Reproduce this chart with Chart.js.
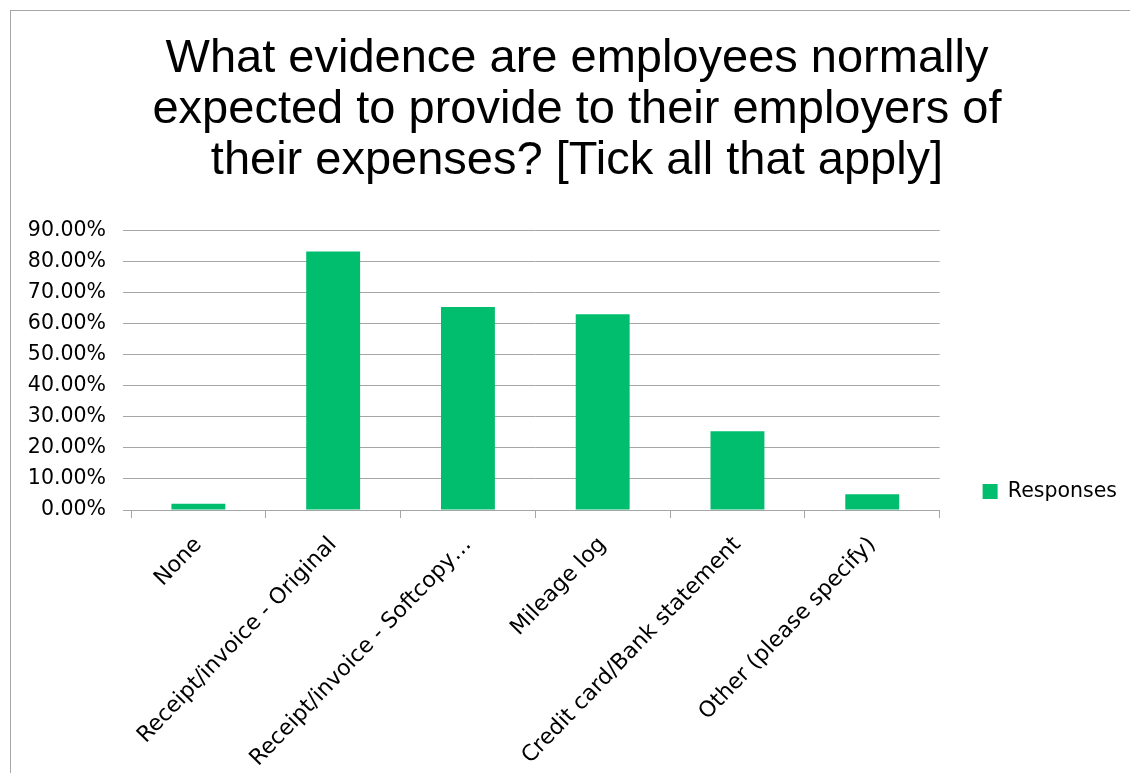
<!DOCTYPE html>
<html>
<head>
<meta charset="utf-8">
<title>Evidencia de gastos</title>
<script src="https://cdn.jsdelivr.net/npm/chart.js@4.4.1/dist/chart.umd.min.js"></script>
<style>
    html, body { margin: 0; padding: 0; background: #fff; overflow: hidden; }
    #marco {
        position: absolute; left: 10px; top: 10px;
        width: 1134px; height: 961px;
        border-left: 1px solid #a6a6a6; border-top: 1px solid #a6a6a6;
    }
</style>
</head>
<body>
<div id="marco"><canvas id="grafica"></canvas></div>
<script>
// --- DATOS ---
const tituloLineas = [
    "What evidence are employees normally",
    "expected to provide to their employers of",
    "their expenses? [Tick all that apply]"
];
const categorias = [
    "None",
    "Receipt/invoice - Original",
    "Receipt/invoice - Softcopy…",
    "Mileage log",
    "Credit card/Bank statement",
    "Other (please specify)"
];
const respuestas = [2.0, 83.2, 65.3, 63.0, 25.3, 5.1]; // porcentaje
const nombreSerie = "Responses";
const ejeYMax = 90;
const ejeYPaso = 10;

// --- ESTILO ---
const VERDE = '#00BE6E';
const GRIS = '#A6A6A6';
const FAMILIA = '"DejaVu Sans", Verdana, sans-serif';
const FUENTE_EJES = { family: FAMILIA, size: 20.5 };
const FUENTE_CATEGORIAS = { family: FAMILIA, size: 22 };
const GIRO_CATEGORIAS = 46;

// tamaños fijos de los ejes para que el área de trazado quede en su sitio
const ANCHO_EJE_Y = 104;
const ALTO_EJE_X = 462;
const ANCHO_LEYENDA = 188;

function crearGrafica() {
    const ctx = document.getElementById('grafica').getContext('2d');
    new Chart(ctx, {
        type: 'bar',
        data: {
            labels: categorias,
            datasets: [{
                label: nombreSerie,
                data: respuestas,
                backgroundColor: VERDE,
                borderWidth: 0,
                barPercentage: 0.4,
                categoryPercentage: 1.0
            }]
        },
        options: {
            responsive: true,
            maintainAspectRatio: false,
            animation: false,
            layout: { padding: { left: 16, right: 18, top: 0, bottom: 0 } },
            scales: {
                x: {
                    grid: { offset: true, drawOnChartArea: false, tickLength: 8, color: GRIS },
                    border: { color: GRIS },
                    ticks: {
                        autoSkip: false,
                        minRotation: GIRO_CATEGORIAS,
                        maxRotation: GIRO_CATEGORIAS,
                        padding: 14,
                        color: '#000',
                        font: FUENTE_CATEGORIAS
                    },
                    afterFit: (eje) => { eje.height = ALTO_EJE_X; }
                },
                y: {
                    min: 0,
                    max: ejeYMax,
                    grid: { color: GRIS, tickLength: 8 },
                    border: { display: false },
                    ticks: {
                        stepSize: ejeYPaso,
                        padding: 17,
                        color: '#000',
                        font: FUENTE_EJES,
                        callback: (v) => v.toFixed(2) + '%'
                    },
                    afterFit: (eje) => { eje.width = ANCHO_EJE_Y; }
                }
            },
            plugins: {
                title: {
                    display: true,
                    text: tituloLineas,
                    color: '#000',
                    font: { family: '"Liberation Sans", Arial, sans-serif', size: 47, weight: 'normal', lineHeight: 1.08 },
                    padding: { top: 23, bottom: 44 }
                },
                legend: {
                    position: 'right',
                    align: 'center',
                    maxWidth: ANCHO_LEYENDA,
                    labels: {
                        boxWidth: 15,
                        boxHeight: 15,
                        padding: 43,
                        color: '#000',
                        font: FUENTE_EJES
                    }
                },
                tooltip: { enabled: false }
            }
        }
    });
}

crearGrafica();
</script>
</body>
</html>
